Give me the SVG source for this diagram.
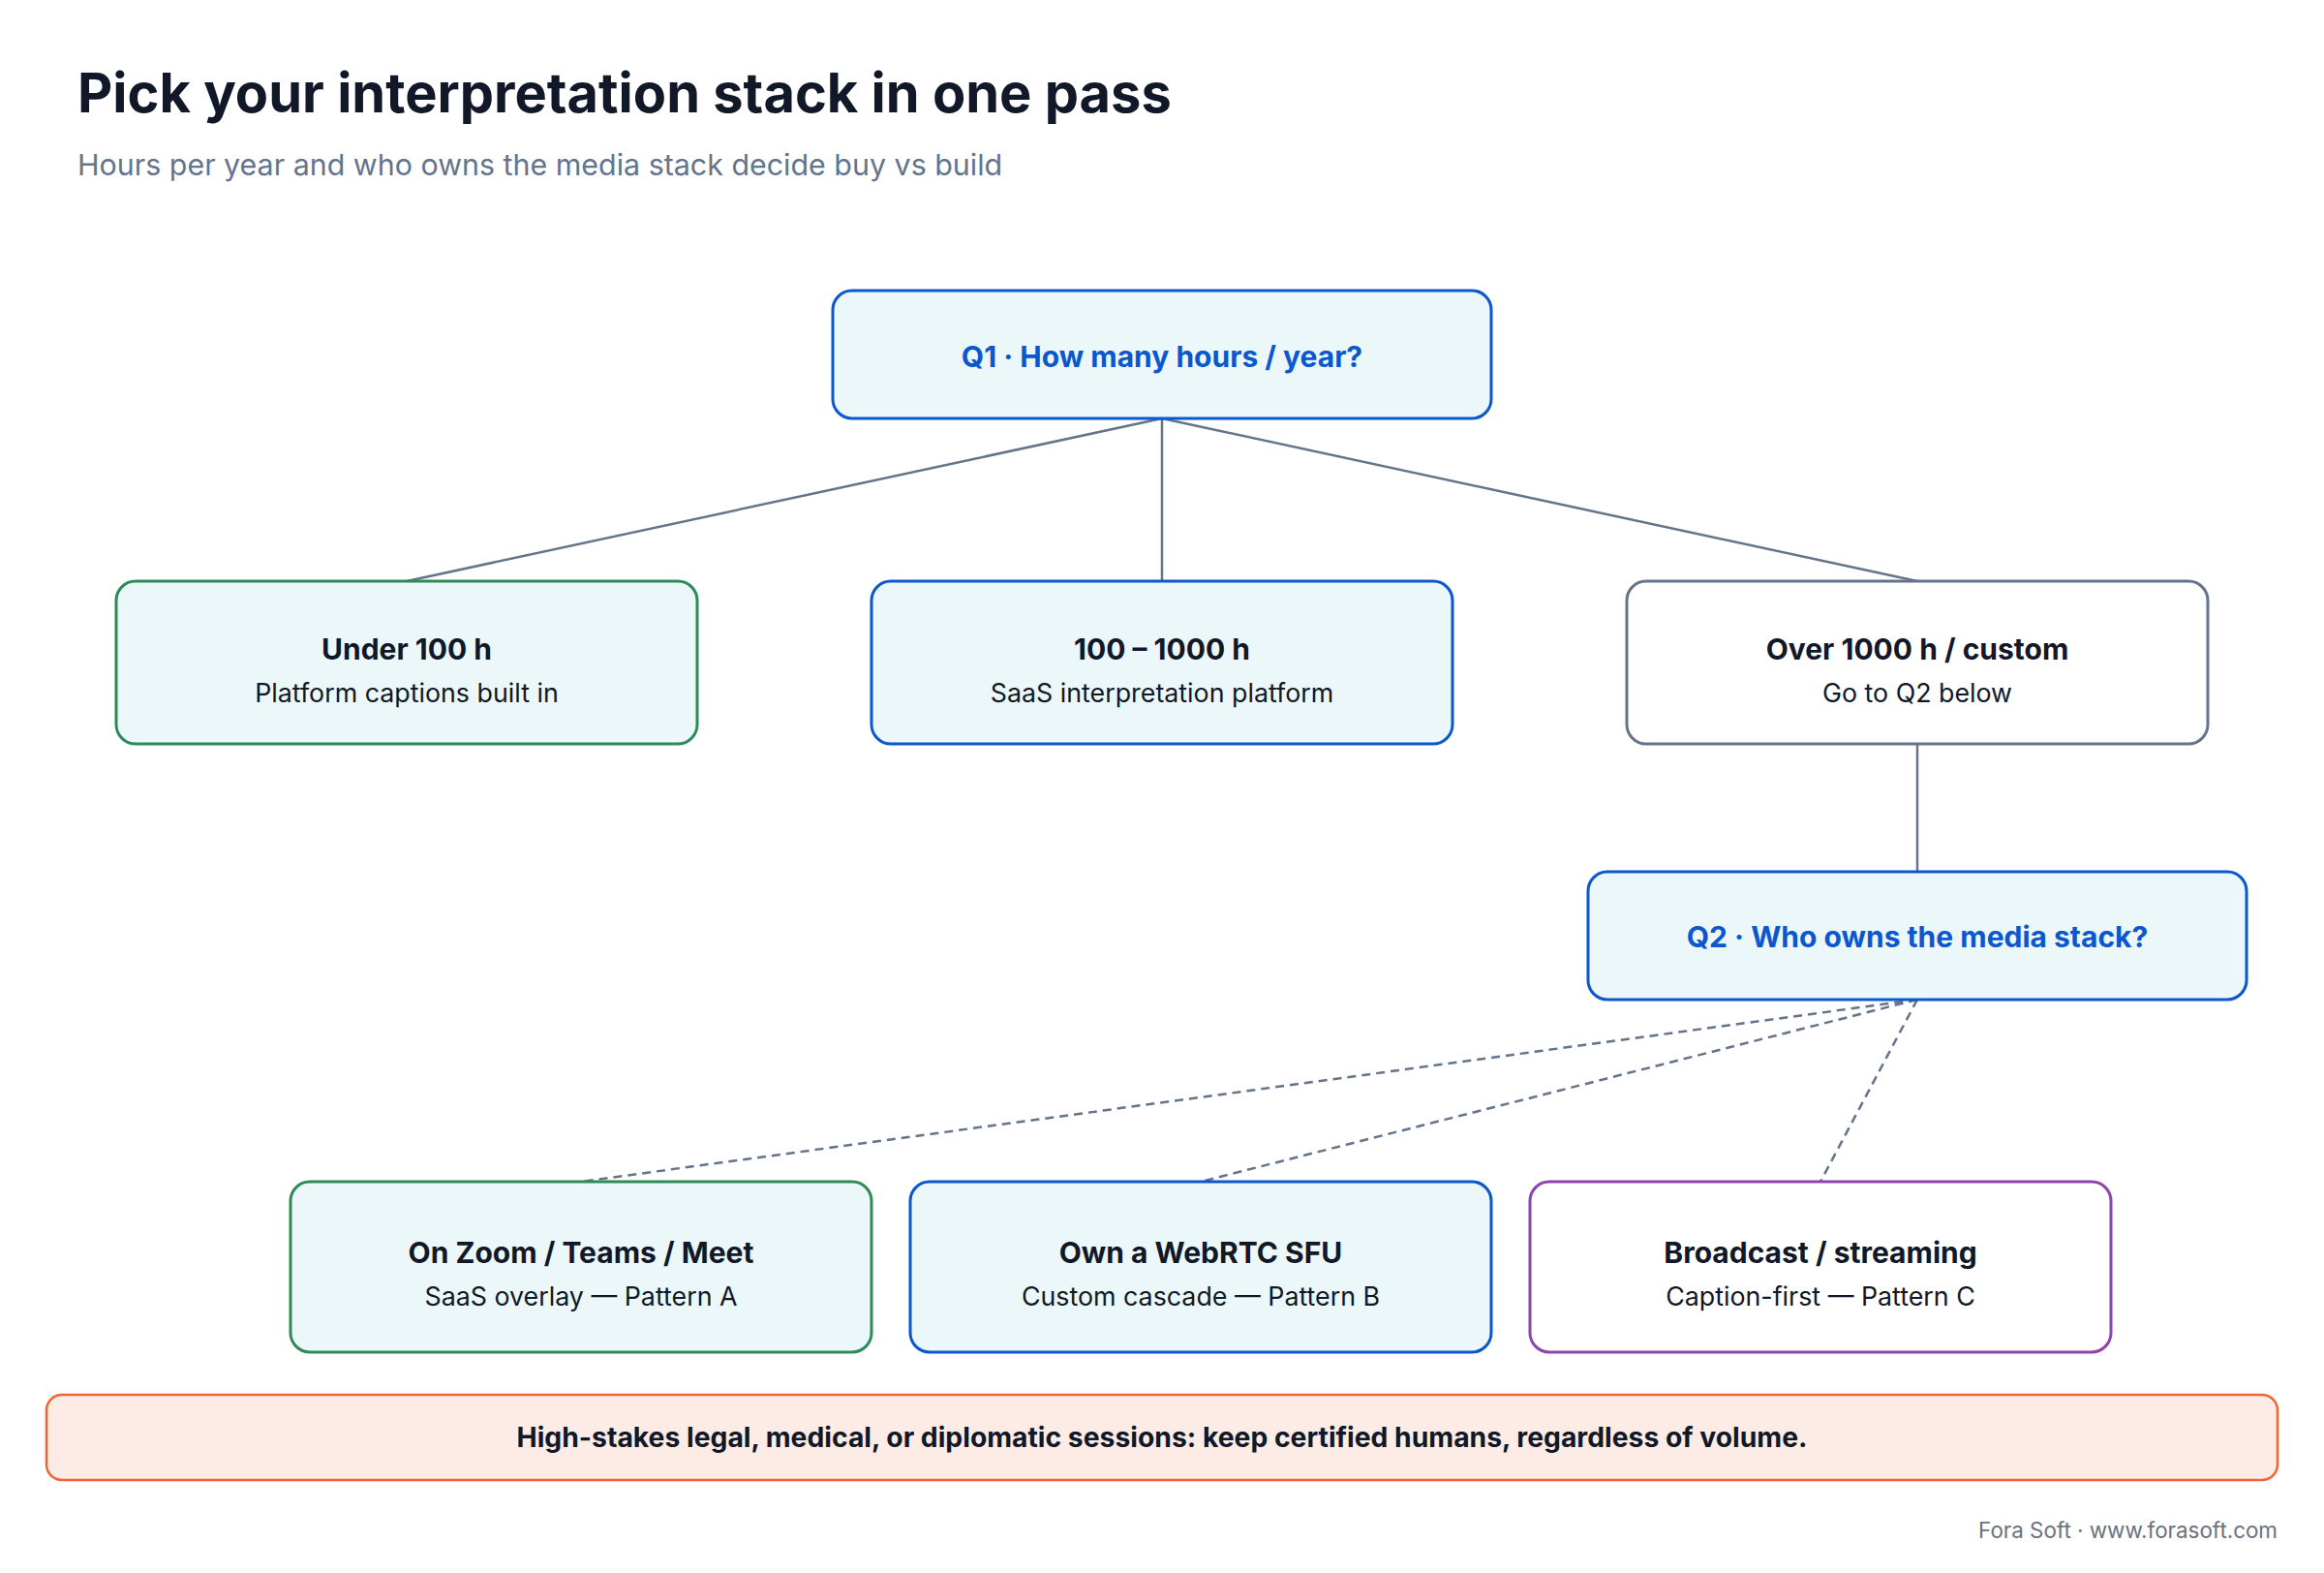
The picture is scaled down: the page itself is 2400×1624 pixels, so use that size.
<svg xmlns="http://www.w3.org/2000/svg" width="2400" height="1624" viewBox="0 0 2400 1624">
<style>
  text { font-family: Inter, "Noto Sans", "Liberation Sans", sans-serif; }
  .title { font-size: 56px; font-weight: 700; fill: #111827; }
  .subtitle { font-size: 30.4px; font-weight: 400; fill: #64748b; }
  .q { font-size: 30px; font-weight: 700; fill: #0b57d0; text-anchor: middle; }
  .nt { font-size: 30px; font-weight: 700; fill: #111827; text-anchor: middle; }
  .ns { font-size: 26.8px; font-weight: 400; fill: #111827; text-anchor: middle; }
  .box { stroke-width: 3; }
  .tint { fill: #ecf7f9; }
  .white { fill: #ffffff; }
  .blue { stroke: #0b57d0; }
  .green { stroke: #2e8b57; }
  .gray { stroke: #64748b; }
  .purple { stroke: #8e44ad; }
  .edge { stroke: #64748b; stroke-width: 2.5; fill: none; }
  .dash { stroke-dasharray: 9 6; }
  .banner-t { font-size: 28.3px; font-weight: 700; fill: #111827; text-anchor: middle; }
  .footer { font-size: 22.4px; font-weight: 400; fill: #6b7280; text-anchor: end; }
</style>
<rect x="0" y="0" width="2400" height="1624" fill="#ffffff"/>
<text class="title" x="80" y="116">Pick your interpretation stack in one pass</text>
<text class="subtitle" x="80" y="181">Hours per year and who owns the media stack decide buy vs build</text>

<g id="connectors">
  <line class="edge" x1="1200" y1="432" x2="420" y2="600"/>
  <line class="edge" x1="1200" y1="432" x2="1200" y2="600"/>
  <line class="edge" x1="1200" y1="432" x2="1980" y2="600"/>
  <line class="edge" x1="1980" y1="768" x2="1980" y2="900"/>
  <line class="edge dash" x1="1980" y1="1032" x2="600" y2="1220"/>
  <line class="edge dash" x1="1980" y1="1032" x2="1240" y2="1220"/>
  <line class="edge dash" x1="1980" y1="1032" x2="1880" y2="1220"/>
</g>

<g id="q1">
  <rect class="box tint blue" x="860" y="300" width="680" height="132" rx="20"/>
  <text class="q" x="1200" y="379">Q1 · How many hours / year?</text>
</g>

<g id="under100">
  <rect class="box tint green" x="120" y="600" width="600" height="168" rx="20"/>
  <text class="nt" x="420" y="681">Under 100 h</text>
  <text class="ns" x="420" y="725">Platform captions built in</text>
</g>

<g id="mid">
  <rect class="box tint blue" x="900" y="600" width="600" height="168" rx="20"/>
  <text class="nt" x="1200" y="681">100 – 1000 h</text>
  <text class="ns" x="1200" y="725">SaaS interpretation platform</text>
</g>

<g id="over1000">
  <rect class="box white gray" x="1680" y="600" width="600" height="168" rx="20"/>
  <text class="nt" x="1980" y="681">Over 1000 h / custom</text>
  <text class="ns" x="1980" y="725">Go to Q2 below</text>
</g>

<g id="q2">
  <rect class="box tint blue" x="1640" y="900" width="680" height="132" rx="20"/>
  <text class="q" x="1980" y="978">Q2 · Who owns the media stack?</text>
</g>

<g id="patternA">
  <rect class="box tint green" x="300" y="1220" width="600" height="176" rx="20"/>
  <text class="nt" x="600" y="1304">On Zoom / Teams / Meet</text>
  <text class="ns" x="600" y="1348">SaaS overlay — Pattern A</text>
</g>

<g id="patternB">
  <rect class="box tint blue" x="940" y="1220" width="600" height="176" rx="20"/>
  <text class="nt" x="1240" y="1304">Own a WebRTC SFU</text>
  <text class="ns" x="1240" y="1348">Custom cascade — Pattern B</text>
</g>

<g id="patternC">
  <rect class="box white purple" x="1580" y="1220" width="600" height="176" rx="20"/>
  <text class="nt" x="1880" y="1304">Broadcast / streaming</text>
  <text class="ns" x="1880" y="1348">Caption-first — Pattern C</text>
</g>

<g id="banner">
  <rect x="48" y="1440" width="2304" height="88" rx="16" fill="#fdece6" stroke="#f26430" stroke-width="2.5"/>
  <text class="banner-t" x="1200" y="1494">High-stakes legal, medical, or diplomatic sessions: keep certified humans, regardless of volume.</text>
</g>

<text class="footer" x="2352" y="1588">Fora Soft · www.forasoft.com</text>
</svg>
